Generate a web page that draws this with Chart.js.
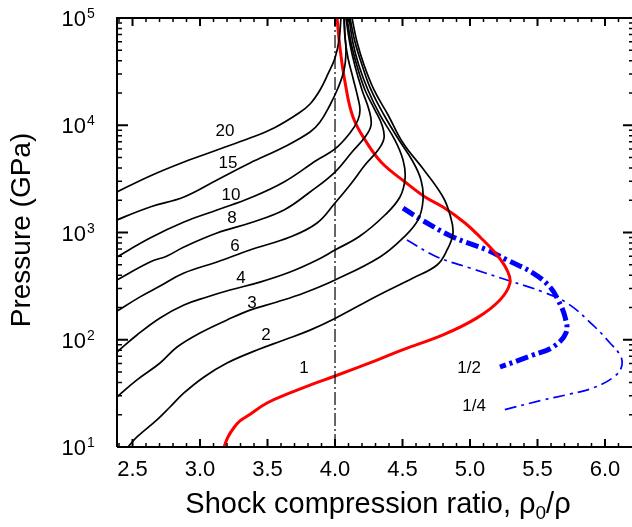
<!DOCTYPE html>
<html><head><meta charset="utf-8">
<script src="https://cdn.jsdelivr.net/npm/chart.js@4.4.1/dist/chart.umd.min.js"></script>
<style>html,body{margin:0;padding:0;background:#fff;}canvas{display:block;}</style>
</head><body>
<canvas id="c" width="632" height="527"></canvas>
<script>
// ---- data: [compression ratio, pressure GPa] ----
const curve20 = [[2.37,2330],[2.385,2388],[2.63,3365],[2.881,4541],[3.126,5875],[3.37,7603],[3.548,9419],[3.733,13000],[3.815,15780],[3.889,21330],[3.948,30060],[4.0,42370],[4.03,62370],[4.044,100000]];
const curve15 = [[2.37,1270],[2.385,1309],[2.63,1730],[2.881,2143],[3.126,3090],[3.37,4446],[3.622,6266],[3.815,8650],[3.889,10720],[3.963,15450],[4.022,22240],[4.067,32740],[4.081,48190],[4.074,69500],[4.067,100000]];
const curve10 = [[2.37,575],[2.385,592],[2.63,889],[2.881,1253],[3.126,1622],[3.37,2097],[3.622,2958],[3.867,4743],[4.0,6012],[4.111,8472],[4.17,11190],[4.185,13870],[4.17,17950],[4.133,27600],[4.096,42370],[4.074,65100],[4.067,100000]];
const curve8 = [[2.37,350],[2.385,361],[2.63,531],[2.756,604],[2.881,733],[3.126,989],[3.37,1227],[3.622,1622],[3.815,2388],[4.0,3664],[4.126,5636],[4.222,7776],[4.267,10050],[4.252,13870],[4.2,21330],[4.148,35680],[4.111,57240],[4.081,100000]];
const curve6 = [[2.37,180],[2.385,185],[2.556,251],[2.704,317],[2.881,419],[3.126,531],[3.37,687],[3.667,908],[3.867,1227],[4.0,1884],[4.111,2773],[4.222,4256],[4.319,5875],[4.363,7603],[4.348,10050],[4.296,13870],[4.222,21330],[4.163,35680],[4.119,58480],[4.089,100000]];
const curve4 = [[2.37,74],[2.385,76.9],[2.533,110.7],[2.704,159.6],[2.881,210.9],[3.052,250.5],[3.222,291],[3.444,345],[3.667,428.5],[3.867,554.6],[4.0,687],[4.185,927],[4.37,1456],[4.481,2143],[4.519,3221],[4.504,4743],[4.444,7278],[4.333,12470],[4.244,21330],[4.178,35680],[4.133,58480],[4.104,100000]];
const curve3 = [[2.37,28],[2.385,29.3],[2.533,42.2],[2.704,60.7],[2.83,85.5],[3.0,115.6],[3.2,152.8],[3.37,189],[3.57,225],[3.77,273],[4.0,361],[4.333,592],[4.504,889],[4.615,1309],[4.652,2009],[4.637,3090],[4.57,4743],[4.474,7278],[4.363,12470],[4.267,21330],[4.2,36480],[4.148,59700],[4.111,100000]];
const curve2 = [[2.44,9],[2.467,10],[2.533,12.4],[2.681,17.9],[2.778,23.6],[2.881,31.9],[3.03,45],[3.2,60.7],[3.422,80.2],[3.622,99.5],[3.815,123],[4.007,159.6],[4.311,256],[4.578,377],[4.756,498],[4.83,687],[4.874,988],[4.852,1456],[4.8,2143],[4.659,3828],[4.504,6823],[4.393,12470],[4.289,21330],[4.215,36480],[4.163,59700],[4.126,100000]];
const curve1 = [[3.165,9],[3.178,10],[3.207,12.4],[3.252,15.2],[3.296,17.5],[3.348,19.3],[3.496,25.7],[3.667,31.9],[3.815,37.8],[4.0,45.9],[4.311,64.7],[4.504,81],[4.8,111],[5.052,160],[5.222,235],[5.296,338],[5.274,447],[5.2,617],[5.074,908],[4.963,1227],[4.8,1730],[4.667,2143],[4.519,2958],[4.348,4446],[4.237,6823],[4.133,11940],[4.074,25290],[4.037,52480],[4.015,100000]];
const curveHalf = [[4.504,1691],[4.63,1337],[4.874,908],[5.126,687],[5.274,555],[5.467,419],[5.593,310],[5.652,235],[5.704,163],[5.711,116],[5.615,85.5],[5.467,72.1],[5.222,55.7]];
const curveQuarter = [[4.533,851],[4.756,592],[5.0,467],[5.296,353],[5.541,279],[5.719,220],[5.911,137],[6.037,93.3],[6.111,72.1],[6.126,58.2],[6.074,45.9],[5.911,35.5],[5.741,31.2],[5.541,27.4],[5.244,22.1]];
const refLine = [[4.0,10],[4.0,100000]];

const xMin = 2.385, xMax = 6.2, yMin = 10, yMax = 100000;
const xTickValues = [2.5,3.0,3.5,4.0,4.5,5.0,5.5,6.0];
const yTickExponents = [1,2,3,4,5];
const labelTexts = ['20','15','10','8','6','4','3','2','1','1/2','1/4'];
const labelX = [3.185,3.207,3.230,3.237,3.259,3.304,3.385,3.489,3.770,4.993,5.030];
const labelY = [8831,4446,2239,1365,748,376.7,220,110.7,54.5,54.5,24.1];

const FONT = '"Liberation Sans", Arial, Helvetica, sans-serif';
const pts = a => a.map(p => ({x:p[0], y:p[1]}));
function ds(data, color, width, dash, extra) {
  return Object.assign({data: pts(data), showLine: true, borderColor: color, borderWidth: width,
    borderDash: dash || [], pointRadius: 0, tension: 0.4, fill: false}, extra || {});
}

const decor = {
  id: 'decor',
  afterDraw(chart) {
    const {ctx, chartArea: a, scales: {x, y}} = chart;
    ctx.save();
    ctx.strokeStyle = '#000'; ctx.fillStyle = '#000';
    ctx.lineWidth = 2;
    ctx.beginPath();
    ctx.moveTo(a.left, a.bottom); ctx.lineTo(a.left, a.top); ctx.lineTo(a.right, a.top);
    ctx.moveTo(a.left, a.bottom); ctx.lineTo(a.right, a.bottom);
    ctx.stroke();
    for (let i = 24; i <= 62; i++) {
      const px = x.getPixelForValue(i / 10);
      if (px < a.left + 1 || px > a.right - 1) continue;
      const major = i % 5 === 0;
      const L = major ? 8 : 4;
      ctx.lineWidth = major ? 2 : 1.5;
      ctx.beginPath();
      ctx.moveTo(px, a.bottom); ctx.lineTo(px, a.bottom - L);
      ctx.moveTo(px, a.top); ctx.lineTo(px, a.top + L);
      ctx.stroke();
    }
    for (let e = 1; e <= 4; e++) {
      for (let m = 1; m <= 9; m++) {
        if (e === 1 && m === 1) continue;
        const py = y.getPixelForValue(m * Math.pow(10, e));
        const major = m === 1;
        ctx.lineWidth = major ? 2 : 1.5;
        ctx.beginPath();
        ctx.moveTo(a.left, py); ctx.lineTo(a.left + (major ? 11 : 5), py);
        ctx.moveTo(a.right, py); ctx.lineTo(a.right - (major ? 9 : 3), py);
        ctx.stroke();
      }
    }
    ctx.font = '22px ' + FONT;
    ctx.textAlign = 'center'; ctx.textBaseline = 'alphabetic';
    xTickValues.forEach(v => ctx.fillText(v.toFixed(1), x.getPixelForValue(v), 476));
    yTickExponents.forEach(e => {
      const py = y.getPixelForValue(Math.pow(10, e));
      ctx.font = '22px ' + FONT; ctx.textAlign = 'right';
      ctx.fillText('10', 86, py + 8);
      ctx.font = '14px ' + FONT; ctx.textAlign = 'left';
      ctx.fillText(String(e), 87, py);
    });
    const big = '29px ' + FONT, small = '19px ' + FONT;
    const t1 = 'Shock compression ratio, \u03c1', t2 = '0', t3 = '/\u03c1';
    ctx.font = big; const w1 = ctx.measureText(t1).width, w3 = ctx.measureText(t3).width;
    ctx.font = small; const w2 = ctx.measureText(t2).width;
    let sx = 378 - (w1 + w2 + w3) / 2;
    ctx.textAlign = 'left';
    ctx.font = big; ctx.fillText(t1, sx, 513); sx += w1;
    ctx.font = small; ctx.fillText(t2, sx, 519); sx += w2;
    ctx.font = big; ctx.fillText(t3, sx, 513);
    ctx.save();
    ctx.translate(30, 230); ctx.rotate(-Math.PI / 2);
    ctx.font = '28px ' + FONT; ctx.textAlign = 'center';
    ctx.fillText('Pressure (GPa)', 0, 0);
    ctx.restore();
    ctx.font = '17px ' + FONT; ctx.textAlign = 'center'; ctx.textBaseline = 'middle';
    labelTexts.forEach((t, i) => ctx.fillText(t, x.getPixelForValue(labelX[i]), y.getPixelForValue(labelY[i])));
    ctx.restore();
  }
};

const black = '#000000';
new Chart(document.getElementById('c'), {
  type: 'scatter',
  data: { datasets: [
    ds(refLine, black, 1.2, [13, 3, 2, 3], {tension: 0}),
    ds(curve20, black, 1.7), ds(curve15, black, 1.7), ds(curve10, black, 1.7), ds(curve8, black, 1.7),
    ds(curve6, black, 1.7), ds(curve4, black, 1.7), ds(curve3, black, 1.7), ds(curve2, black, 1.7),
    ds(curve1, '#ff0000', 3),
    ds(curveQuarter, '#0000ff', 1.7, [12, 5, 3, 5]),
    ds(curveHalf, '#0000ff', 5, [13, 4, 3, 4])
  ]},
  options: {
    responsive: false, animation: false, devicePixelRatio: 1,
    layout: {padding: {top: 18, left: 0, right: 0, bottom: 0}},
    plugins: {legend: {display: false}, tooltip: {enabled: false}},
    scales: {
      x: {type: 'linear', min: xMin, max: xMax, grid: {display: false}, border: {display: false},
          ticks: {display: false}, afterFit(s) { s.height = 80; }},
      y: {type: 'logarithmic', min: yMin, max: yMax, grid: {display: false}, border: {display: false},
          ticks: {display: false}, afterFit(s) { s.width = 117; }}
    }
  },
  plugins: [decor]
});
</script></body></html>
